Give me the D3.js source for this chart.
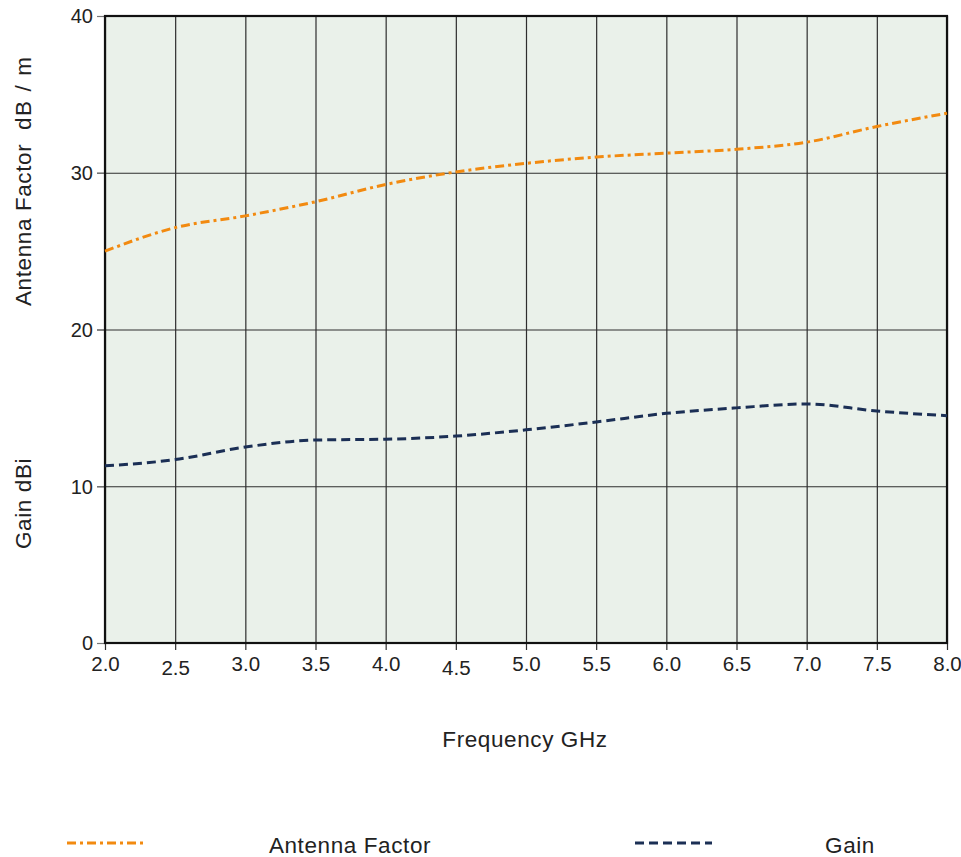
<!DOCTYPE html>
<html>
<head>
<meta charset="utf-8">
<script src="https://cdn.jsdelivr.net/npm/d3@7"></script>
<style>
  html, body { margin: 0; padding: 0; background: #fff; }
  svg { display: block; font-family: "Liberation Sans", Arial, Helvetica, sans-serif; }
</style>
</head>
<body>
<svg id="chart" width="961" height="857"></svg>
<script>
// Frequency sweep (GHz)
const frequencies = [2.0, 2.5, 3.0, 3.5, 4.0, 4.5, 5.0, 5.5, 6.0, 6.5, 7.0, 7.5, 8.0];
// Antenna factor, dB/m
const antennaFactor = [25.0, 26.5, 27.25, 28.15, 29.25, 30.05, 30.6, 31.0, 31.25, 31.5, 31.95, 32.95, 33.8];
// Gain, dBi
const gain = [11.3, 11.7, 12.5, 12.95, 13.0, 13.2, 13.6, 14.1, 14.65, 15.0, 15.25, 14.8, 14.5];

const xTickValues = [2.0, 2.5, 3.0, 3.5, 4.0, 4.5, 5.0, 5.5, 6.0, 6.5, 7.0, 7.5, 8.0];
const yTickValues = [0, 10, 20, 30, 40];

const svg = d3.select("#chart");
const plot = { left: 105, right: 947, top: 16, bottom: 643 };

const x = d3.scaleLinear().domain([2, 8]).range([plot.left, plot.right]);
const y = d3.scaleLinear().domain([0, 40]).range([plot.bottom, plot.top]);

// plot background
svg.append("rect")
  .attr("x", plot.left).attr("y", plot.top)
  .attr("width", plot.right - plot.left).attr("height", plot.bottom - plot.top)
  .attr("fill", "#eaf1ea");

// vertical grid lines, extending a little below the frame as ticks
const xAxis = d3.axisBottom(x)
  .tickValues(xTickValues)
  .tickSize(-(plot.bottom - plot.top) - 7)
  .tickFormat(d3.format(".1f"));
const gx = svg.append("g")
  .attr("transform", `translate(0,${plot.bottom + 7})`)
  .call(xAxis);
gx.select(".domain").remove();
gx.selectAll(".tick line").attr("stroke", "#2e2e2e").attr("stroke-width", 1.2);
gx.selectAll(".tick text")
  .attr("y", d => (d === 2.5 || d === 4.5) ? 25 : 21)
  .attr("dy", 0)
  .attr("font-size", 20.5)
  .attr("fill", "#222")
  .attr("font-family", "Liberation Sans, Arial, sans-serif");

// horizontal grid lines, extending left of the frame as ticks
const yAxis = d3.axisLeft(y)
  .tickValues(yTickValues)
  .tickSize(-(plot.right - plot.left) - 8)
  .tickFormat(d3.format("d"));
const gy = svg.append("g")
  .attr("transform", `translate(${plot.left - 8},0)`)
  .call(yAxis);
gy.select(".domain").remove();
gy.selectAll(".tick line").attr("stroke", "#2e2e2e").attr("stroke-width", 1.2);
gy.selectAll(".tick line")
  .clone(true).attr("x1", 0).attr("x2", 8).attr("stroke", "#777");
gy.selectAll(".tick text")
  .attr("x", -4)
  .attr("dy", "0.34em")
  .attr("font-size", 20)
  .attr("fill", "#222")
  .attr("font-family", "Liberation Sans, Arial, sans-serif");

// frame
svg.append("rect")
  .attr("x", plot.left).attr("y", plot.top)
  .attr("width", plot.right - plot.left).attr("height", plot.bottom - plot.top)
  .attr("fill", "none").attr("stroke", "#111").attr("stroke-width", 2.2);

// series lines
const line = values => d3.line()
  .x((d, i) => x(frequencies[i]))
  .y(d => y(d))
  .curve(d3.curveMonotoneX)(values);

const afColor = "#f28a10";
const gainColor = "#1b2f55";
const afDash = "9,4,3,4";
const gainDash = "9,5";

svg.append("path")
  .attr("d", line(antennaFactor))
  .attr("fill", "none").attr("stroke", afColor)
  .attr("stroke-width", 3).attr("stroke-dasharray", afDash);

svg.append("path")
  .attr("d", line(gain))
  .attr("fill", "none").attr("stroke", gainColor)
  .attr("stroke-width", 3).attr("stroke-dasharray", gainDash);

// axis titles
const titleStyle = sel => sel
  .attr("font-size", 22.5)
  .attr("letter-spacing", 0.6)
  .attr("fill", "#222");

const afTitle = svg.append("text")
  .attr("transform", "translate(31,306) rotate(-90)")
  .attr("text-anchor", "start")
  .attr("xml:space", "preserve")
  .call(titleStyle);
afTitle.append("tspan").text("Antenna Factor  ");
afTitle.append("tspan").attr("letter-spacing", 1.6).text("dB / m");

svg.append("text")
  .attr("transform", "translate(31,549) rotate(-90)")
  .attr("text-anchor", "start")
  .call(titleStyle)
  .text("Gain dBi");

svg.append("text")
  .attr("x", 525).attr("y", 747)
  .attr("text-anchor", "middle")
  .call(titleStyle)
  .text("Frequency GHz");

// legend
const legendItems = [
  { label: "Antenna Factor", color: afColor, dash: afDash, x1: 67, x2: 145, tx: 350 },
  { label: "Gain", color: gainColor, dash: gainDash, x1: 635, x2: 712, tx: 850 }
];
const lg = svg.append("g");
legendItems.forEach(it => {
  lg.append("line")
    .attr("x1", it.x1).attr("x2", it.x2).attr("y1", 843).attr("y2", 843)
    .attr("stroke", it.color).attr("stroke-width", 3).attr("stroke-dasharray", it.dash);
  lg.append("text")
    .attr("x", it.tx).attr("y", 853)
    .attr("text-anchor", "middle")
    .call(titleStyle)
    .text(it.label);
});
</script>
</body>
</html>
